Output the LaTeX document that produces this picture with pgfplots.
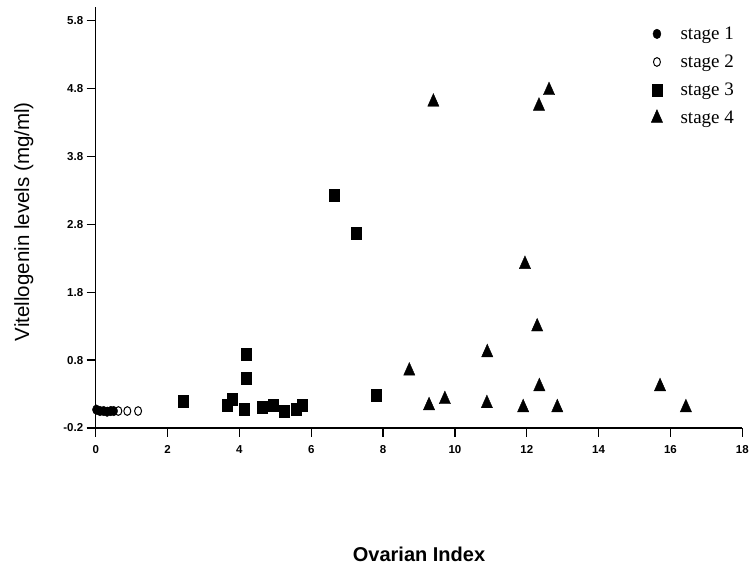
\documentclass[border=0pt]{standalone}
\usepackage{fontspec}
\setmainfont{Liberation Sans}
\newfontfamily\serifleg{Liberation Serif}
\usepackage{pgfplots}
\pgfplotsset{compat=1.18}
\begin{document}
\begin{tikzpicture}[x=1pt,y=1pt]
\useasboundingbox (0,0) rectangle (750,570);
\begin{axis}[
  at={(95.7pt,142pt)}, anchor=south west,
  scale only axis, width=646.6pt, height=421pt,
  xmin=0, xmax=18, ymin=-0.2, ymax=6.0,
  axis x line=bottom, axis y line=left,
  axis line style={-, line width=1.2pt},
  tick align=outside, major tick length=9pt,
  tick style={line width=1.2pt, black},
  xtick={0,2,4,6,8,10,12,14,16,18},
  ytick={-0.2,0.8,1.8,2.8,3.8,4.8,5.8},
  yticklabels={-0.2,0.8,1.8,2.8,3.8,4.8,5.8},
  xticklabels={0,2,4,6,8,10,12,14,16,18},
  ticklabel style={font=\fontsize{11.5}{13}\selectfont\bfseries},
  xticklabel style={yshift=-5pt},
  xlabel={Ovarian Index},
  ylabel={Vitellogenin levels (mg/ml)},
  xlabel style={at={(rel axis cs:0.5,-0.299)}, anchor=center, font=\fontsize{20}{24}\selectfont\bfseries},
  ylabel style={at={(rel axis cs:-0.111,0.49)}, anchor=center, font=\fontsize{20.5}{24}\selectfont},
  legend style={draw=none, fill=none, at={(rel axis cs:0.859,0.958)}, anchor=north west,
    font=\fontsize{19}{22}\selectfont\serifleg, inner sep=0pt, row sep=10pt, column sep=16pt},
  legend cell align=left,
  clip=false,
]
\addplot[only marks, mark=*, mark size=4pt, black, mark options={yscale=1.2}] coordinates {
 (0.02,0.07) (0.12,0.05) (0.22,0.05) (0.32,0.04) (0.42,0.05) (0.50,0.05)
};
\addlegendentry{stage 1}
\addplot[only marks, mark=o, mark size=3.5pt, black, mark options={line width=1pt, yscale=1.25}] coordinates {
 (0.63,0.05) (0.88,0.05) (1.18,0.05)
};
\addlegendentry{stage 2}
\addplot[only marks, mark=square*, mark size=5pt, black, mark options={yscale=1.2}] coordinates {
 (2.44,0.20) (3.67,0.14) (3.79,0.23) (4.14,0.08) (4.18,0.54) (4.20,0.89)
 (4.64,0.10) (4.94,0.14) (5.25,0.05) (5.57,0.08) (5.75,0.14) (6.64,3.23)
 (7.25,2.67) (7.80,0.29)
};
\addlegendentry{stage 3}
\addplot[only marks, mark=triangle*, mark size=6.5pt, black, mark options={yscale=1.3}] coordinates {
 (8.73,0.64) (9.28,0.13) (9.40,4.60) (9.72,0.22) (10.89,0.16) (10.90,0.91)
 (11.90,0.10) (11.95,2.21) (12.29,1.29) (12.34,4.54) (12.35,0.41) (12.62,4.77)
 (12.85,0.10) (15.71,0.41) (16.43,0.10)
};
\addlegendentry{stage 4}
\end{axis}
\end{tikzpicture}
\end{document}
